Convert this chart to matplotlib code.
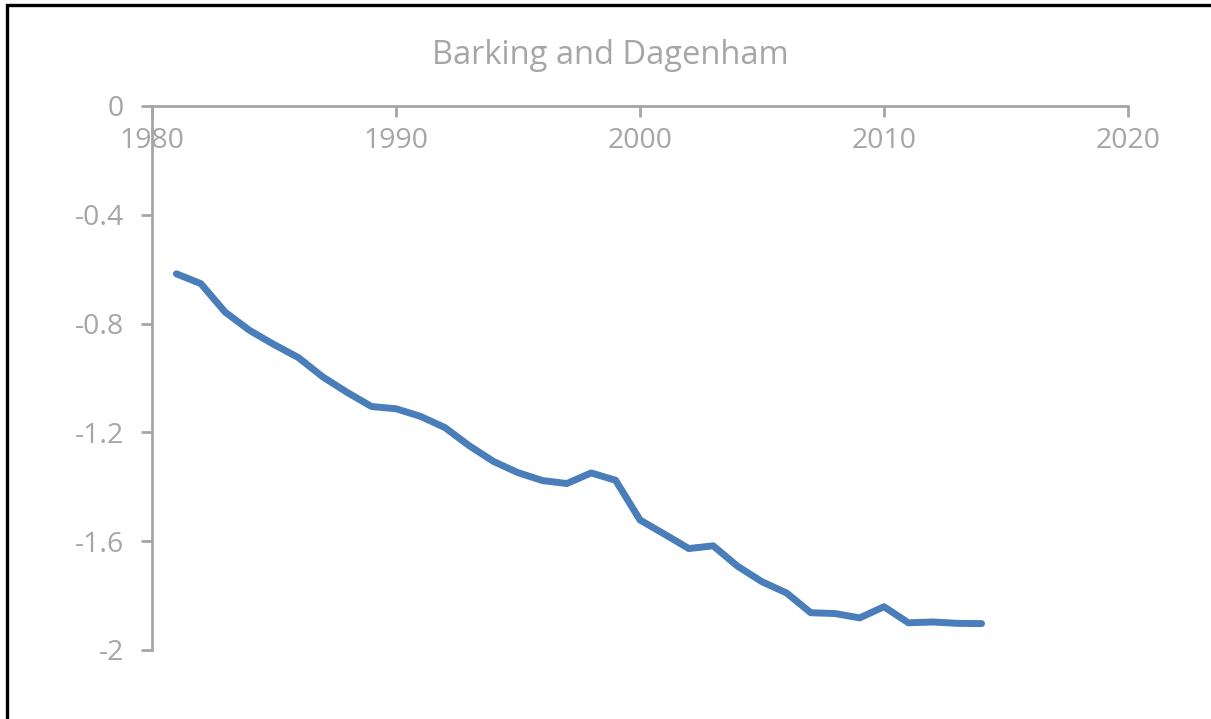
import numpy as np
import matplotlib
matplotlib.use("Agg")
from matplotlib import pyplot as plt
from matplotlib.patches import Rectangle

# dati
anni = [1981, 1982, 1983, 1984, 1985, 1986, 1987, 1988, 1989, 1990,
        1991, 1992, 1993, 1994, 1995, 1996, 1997, 1998, 1999, 2000,
        2001, 2002, 2003, 2004, 2005, 2006, 2007, 2008, 2009, 2010,
        2011, 2012, 2013, 2014]
valori = [-0.617, -0.653, -0.758, -0.825, -0.877, -0.925, -0.996, -1.053, -1.105, -1.113,
          -1.141, -1.182, -1.249, -1.307, -1.348, -1.377, -1.388, -1.349, -1.376, -1.522,
          -1.574, -1.627, -1.617, -1.692, -1.749, -1.790, -1.863, -1.866, -1.882, -1.841,
          -1.900, -1.897, -1.902, -1.903]
titolo = "Barking and Dagenham"
xticks = [1980, 1990, 2000, 2010, 2020]
yticks = [0, -0.4, -0.8, -1.2, -1.6, -2]
ytick_labels = ["0", "-0.4", "-0.8", "-1.2", "-1.6", "-2"]

grigio = "#A6A6A6"
blu = "#4A7EBB"

plt.rcParams['font.family'] = ['Open Sans', 'DejaVu Sans']

fig = plt.figure(figsize=(12.11, 7.19), dpi=100)
ax = fig.add_axes([152/1211, 1 - 650/719, (1128 - 152)/1211, (650 - 106)/719])

ax.plot(anni, valori, color=blu, lw=5, solid_capstyle='round', solid_joinstyle='round')

ax.set_xlim(1980, 2020)
ax.set_ylim(-2, 0)
ax.set_xticks(xticks)
ax.set_yticks(yticks)
ax.set_yticklabels(ytick_labels)

# asse x sullo zero (in alto), tacche verso il basso
ax.spines['bottom'].set_position(('data', 0))
for s in ['top', 'right']:
    ax.spines[s].set_visible(False)
for s in ['bottom', 'left']:
    ax.spines[s].set_color(grigio)
    ax.spines[s].set_linewidth(2)
ax.tick_params(axis='both', colors=grigio, labelcolor=grigio, labelsize=20.5,
               length=8, width=2, direction='out')
ax.tick_params(axis='x', pad=7)
ax.tick_params(axis='y', pad=12)

fig.text(610/1211, 1 - 56/719, titolo, color=grigio, fontsize=23.5,
         ha='center', va='center')

# cornice nera (tagliata a destra e in basso)
fig.patches.append(Rectangle((6.5/1211, -0.1), 1.2, 714/719 + 0.1,
                             transform=fig.transFigure, fill=False,
                             edgecolor='black', lw=2.4))

fig.savefig("out.png", dpi=100)
